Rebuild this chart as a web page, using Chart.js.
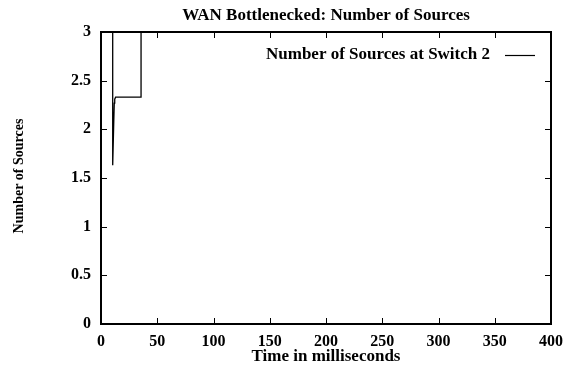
<!DOCTYPE html>
<html>
<head>
<meta charset="utf-8">
<script src="https://cdn.jsdelivr.net/npm/chart.js@4/dist/chart.umd.min.js"></script>
<style>
  html, body { margin: 0; padding: 0; background: #fff; }
  #wrap { width: 564px; height: 370px; }
</style>
</head>
<body>
<div id="wrap"><canvas id="c" width="564" height="370"></canvas></div>
<script>
// Number of active sources seen at switch 2 over time (ms)
const timeMs = [10.4, 10.4, 11.4, 11.8, 12.2, 13.0, 20.0, 35.6, 35.6, 400];
const sourcesSwitch2 = [3.6, 1.63, 2.1, 2.27, 2.31, 2.33, 2.33, 2.33, 3.6, 3.6];

const chartTitle = 'WAN Bottlenecked: Number of Sources';
const xTitle = 'Time in milliseconds';
const yTitle = 'Number of Sources';
const seriesLabel = 'Number of Sources at Switch 2';

const xTicks = [0, 50, 100, 150, 200, 250, 300, 350, 400];
const yTicks = [0, 0.5, 1, 1.5, 2, 2.5, 3];

const SERIF = '"Liberation Serif", "Times New Roman", serif';

// Frame, inward ticks, titles and key, drawn in a gnuplot-like style
const decor = {
  id: 'decor',
  afterDatasetsDraw(chart) {
    const { ctx, chartArea: a, scales } = chart;
    const xs = scales.x, ys = scales.y;
    ctx.save();
    ctx.strokeStyle = '#000';
    ctx.lineWidth = 1;
    const tl = 6;
    ctx.beginPath();
    xTicks.forEach(v => {
      const px = Math.round(xs.getPixelForValue(v)) + 0.5;
      ctx.moveTo(px, a.bottom); ctx.lineTo(px, a.bottom - tl);
      ctx.moveTo(px, a.top); ctx.lineTo(px, a.top + tl);
    });
    yTicks.forEach(v => {
      const py = Math.round(ys.getPixelForValue(v)) + 0.5;
      ctx.moveTo(a.left, py); ctx.lineTo(a.left + tl, py);
      ctx.moveTo(a.right, py); ctx.lineTo(a.right - tl, py);
    });
    ctx.stroke();

    ctx.lineWidth = 2;
    ctx.strokeRect(a.left, a.top, a.right - a.left, a.bottom - a.top);

    ctx.fillStyle = '#000';
    ctx.font = 'bold 17px ' + SERIF;
    ctx.textAlign = 'center';
    ctx.textBaseline = 'middle';
    const cx = (a.left + a.right) / 2;
    ctx.fillText(chartTitle, cx, 16);
    ctx.fillText(xTitle, cx, 357);

    ctx.save();
    ctx.font = 'bold 14px ' + SERIF;
    ctx.translate(19, 176);
    ctx.rotate(-Math.PI / 2);
    ctx.fillText(yTitle, 0, 0);
    ctx.restore();

    // key: label then line sample
    ctx.font = 'bold 17px ' + SERIF;
    ctx.textAlign = 'right';
    ctx.fillText(seriesLabel, 490, 55);
    ctx.lineWidth = 1.2;
    ctx.beginPath();
    ctx.moveTo(505, 55.5); ctx.lineTo(535, 55.5);
    ctx.stroke();
    ctx.restore();
  }
};

new Chart(document.getElementById('c'), {
  type: 'line',
  data: {
    datasets: [{
      label: seriesLabel,
      data: timeMs.map((t, i) => ({ x: t, y: sourcesSwitch2[i] })),
      borderColor: '#000',
      borderWidth: 1.3,
      pointRadius: 0,
      fill: false,
      tension: 0,
      clip: 0
    }]
  },
  options: {
    responsive: false,
    animation: false,
    devicePixelRatio: 1,
    layout: { padding: { top: 32, right: 13, left: 0, bottom: 0 } },
    plugins: {
      legend: { display: false },
      title: { display: false },
      tooltip: { enabled: false }
    },
    scales: {
      x: {
        type: 'linear',
        min: 0, max: 400,
        afterFit(s) { s.height = 46; s.paddingLeft = 0; s.paddingRight = 0; },
        afterBuildTicks(s) { s.ticks = xTicks.map(v => ({ value: v })); },
        grid: { display: false, drawTicks: false },
        border: { display: false },
        ticks: {
          padding: 8,
          color: '#000',
          maxRotation: 0,
          callback: v => String(v),
          font: { family: SERIF, size: 16, weight: 'bold' }
        }
      },
      y: {
        min: 0, max: 3,
        afterFit(s) { s.width = 101; s.paddingTop = 0; s.paddingBottom = 0; },
        afterBuildTicks(s) { s.ticks = yTicks.map(v => ({ value: v })); },
        grid: { display: false, drawTicks: false },
        border: { display: false },
        ticks: {
          padding: 10,
          color: '#000',
          callback: v => String(v),
          font: { family: SERIF, size: 16, weight: 'bold' }
        }
      }
    }
  },
  plugins: [decor]
});
</script>
</body>
</html>
